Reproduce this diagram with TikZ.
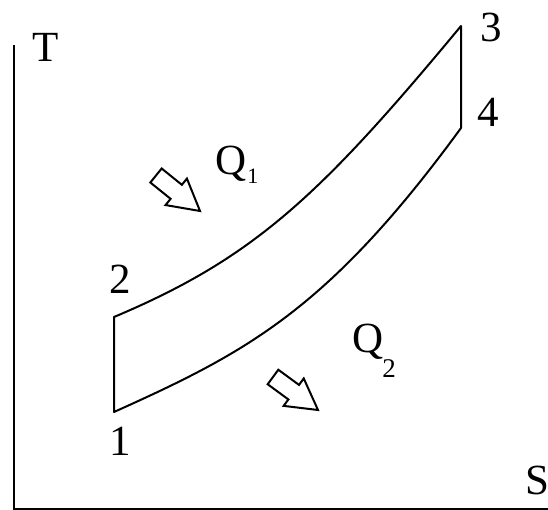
\documentclass[tikz,border=0pt]{standalone}
\usepackage{fontspec}
\setmainfont{Liberation Serif}
\usetikzlibrary{calc}
\tikzset{
  lbl/.style={inner sep=0pt, font=\fontsize{43}{50}\selectfont},
  curveline/.style={line width=2pt, line join=round},
  axisline/.style={line width=2.2pt},
  hollow/.style={line width=2pt, line join=miter, fill=white}
}
\newcommand\subtxt[3]{\raisebox{-#1pt}{\fontsize{#2}{#2}\selectfont #3}}
\newcommand\blockarrow[2]{%
  \coordinate (hb) at ($(#1)!0.46!(#2)$);
  \draw[hollow] ($(#1)!9pt!90:(#2)$) -- ($(hb)!9pt!90:(#2)$) -- ($(hb)!17pt!90:(#2)$)
    -- (#2) -- ($(hb)!17pt!-90:(#2)$) -- ($(hb)!9pt!-90:(#2)$) -- ($(#1)!9pt!-90:(#2)$) -- cycle;
}
\begin{document}
\begin{tikzpicture}[x=1pt,y=-1pt]
\useasboundingbox (0,0) rectangle (548,510);
% axes
\coordinate (ytop) at (14,45);
\coordinate (orig) at (14,509);
\coordinate (xend) at (548,509);
\draw[axisline] (ytop) -- (orig) -- (xend);
% states
\coordinate (p1) at (114,412);
\coordinate (p2) at (114,317);
\coordinate (p3) at (461,26);
\coordinate (p4) at (461,128);
\draw[curveline] (p1) -- (p2)
  .. controls (254,258) and (320,196) .. (p3)
  -- (p4)
  .. controls (328,310.2) and (246,352.6) .. (p1) -- cycle;
% labels
\node[lbl] (lT) at (46,47.5) {T};
\node[lbl] (l3) at (491,27) {3};
\node[lbl] (l4) at (488,112) {4};
\node[lbl] (l2) at (120,279) {2};
\node[lbl] (l1) at (120,441) {1};
\node[lbl] (lS) at (537,480) {S};
\node[lbl, anchor=base west] (q1) at (215,175) {Q\kern1pt\subtxt{9}{22}{1}};
\node[lbl, anchor=base west] (q2) at (352,352) {Q\kern-1pt\subtxt{25}{27}{2}};
% heat arrows
\coordinate (a1s) at (156,175.5);
\coordinate (a1e) at (200,211);
\blockarrow{a1s}{a1e}
\coordinate (a2s) at (273,377);
\coordinate (a2e) at (318,410);
\blockarrow{a2s}{a2e}
\end{tikzpicture}
\end{document}
